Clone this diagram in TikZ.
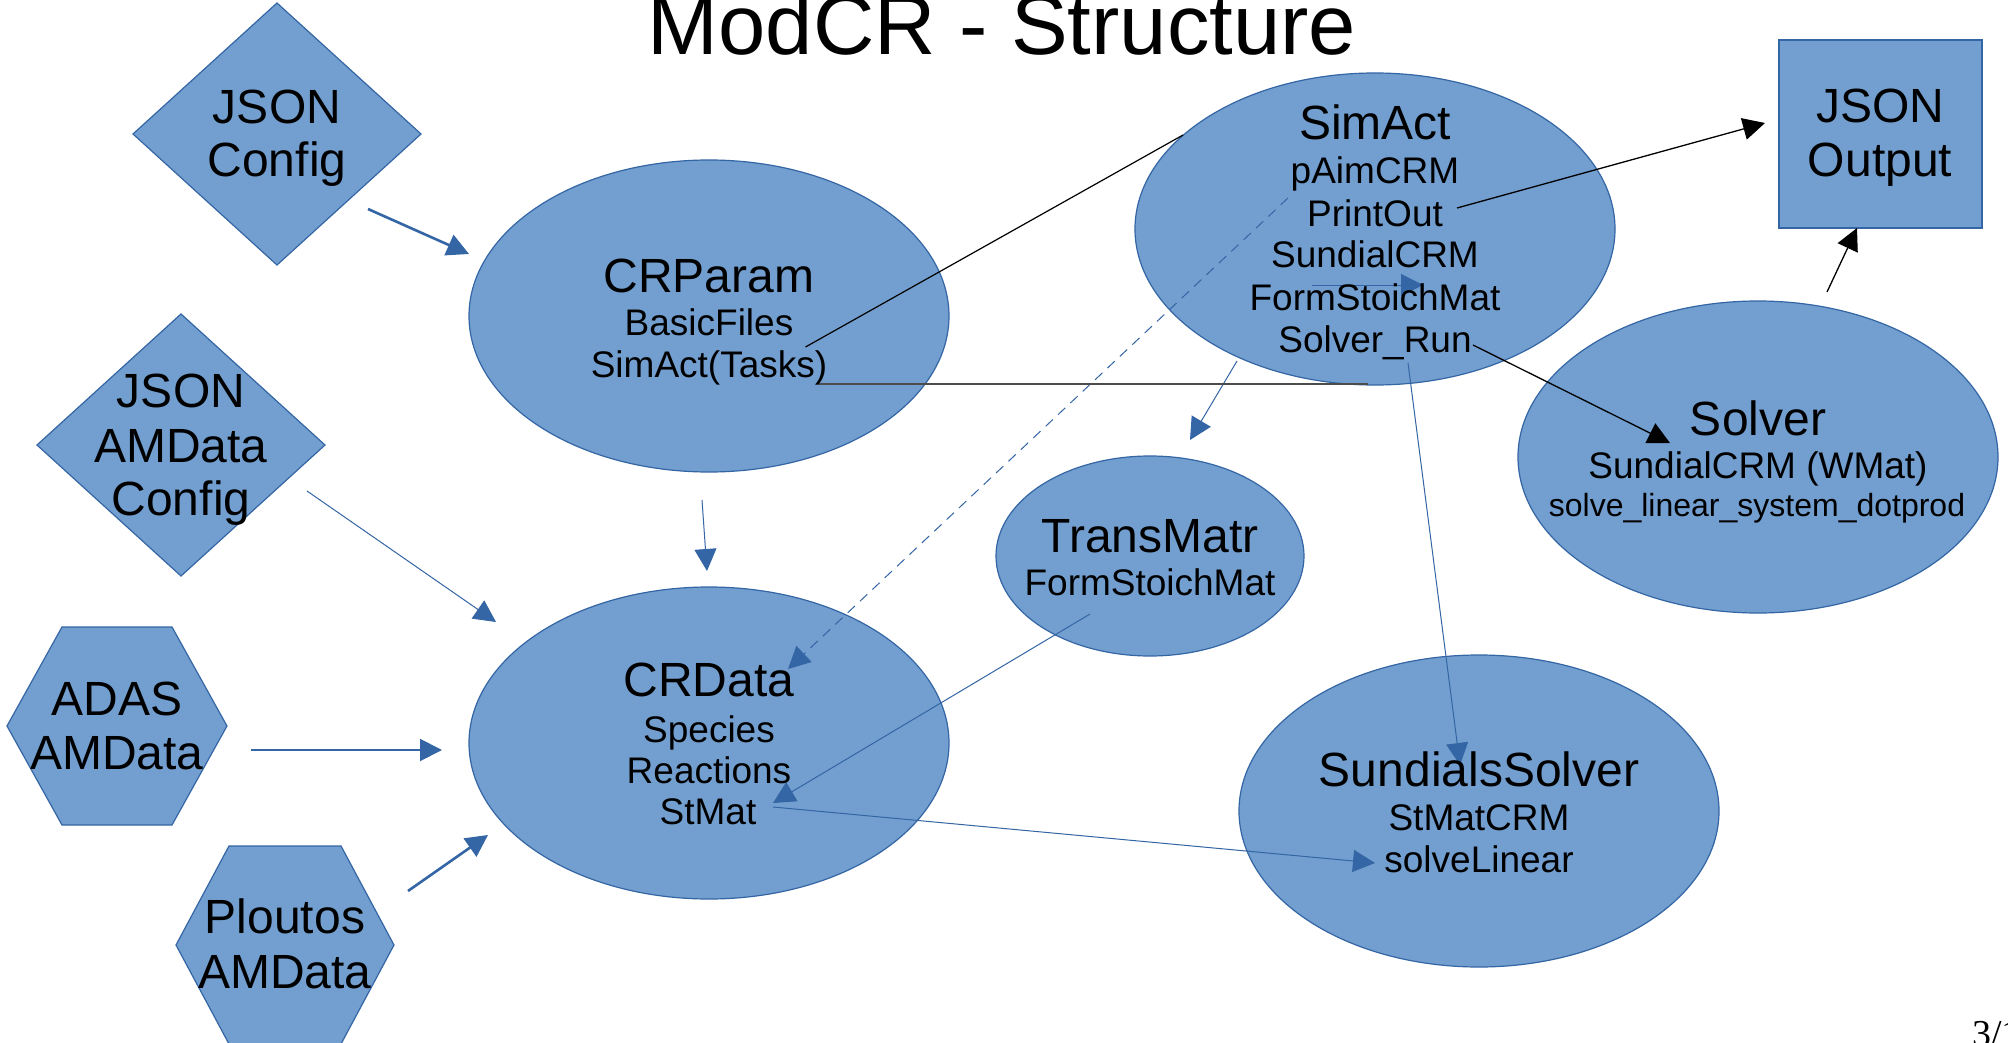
\documentclass[tikz,border=0pt]{standalone}
\usepackage{fontspec}
\setmainfont{Liberation Sans}
\newfontfamily\serifpn{Liberation Serif}
\usetikzlibrary{shapes.geometric,arrows.meta}
\definecolor{fillblue}{HTML}{729FCF}
\definecolor{lineblue}{HTML}{3465A4}
\begin{document}
\begin{tikzpicture}[x=1pt,y=-1pt,
  shp/.style={fill=fillblue,draw=lineblue,line width=1.2pt},
  ell/.style={shp,ellipse,inner sep=0pt,minimum width=480pt,minimum height=312pt},
  ttl/.style={anchor=base,inner sep=0pt,font=\fontsize{48}{55}\selectfont},
  sub/.style={anchor=base,inner sep=0pt,font=\fontsize{37}{42}\selectfont},
  tipA/.style={-{Triangle[length=22pt,width=22pt]}},
  barr/.style={draw=lineblue,line width=1.3pt,tipA},
  karr/.style={draw=black,line width=1.3pt,tipA},
  kline/.style={draw=black,line width=1.2pt},
]
\useasboundingbox (0,0) rectangle (2008,1043);
\fill[white] (0,0) rectangle (2008,1043);

% ---------- shapes ----------
\coordinate (jcfg) at (277,134);
\draw[shp] (133,134) -- (277,3) -- (421,134) -- (277,265) -- cycle;
\coordinate (jamd) at (181,445);
\draw[shp] (37,445) -- (181,314) -- (325,445) -- (181,576) -- cycle;
\coordinate (adas) at (117,726);
\draw[shp] (7,726) -- (62,627) -- (172,627) -- (227,726) -- (172,825) -- (62,825) -- cycle;
\coordinate (plout) at (285,945);
\draw[shp] (176,945) -- (229,846) -- (341,846) -- (394,945) -- (341,1044) -- (229,1044) -- cycle;

\node[ell] (crparam) at (709,316) {};
\node[ell] (crdata) at (709,743) {};
\node[ell] (simact) at (1375,229) {};
\node[ell] (solver) at (1758,457) {};
\node[ell] (sundials) at (1479,811) {};
\node[ell,minimum width=308pt,minimum height=200pt] (transm) at (1150,556) {};
\node[shp,rectangle,inner sep=0pt,minimum width=203pt,minimum height=188pt] (jout) at (1880.5,134) {};

% ---------- connectors ----------
\draw[barr,line width=2.6pt] ([shift={(91,75)}]jcfg.center) -- ([shift={(-240,-62)}]crparam.center);
\draw[barr,line width=1pt] ([shift={(126,46)}]jamd.center) -- ([shift={(-213,-121)}]crdata.center);
\draw[barr,line width=2pt] ([shift={(134,24)}]adas.center) -- ([shift={(-267,7)}]crdata.center);
\draw[barr,line width=2.6pt] ([shift={(123,-54)}]plout.center) -- ([shift={(-221,92)}]crdata.center);
\draw[barr,line width=1pt] ([shift={(-7,184)}]crparam.center) -- ([shift={(-2,-172)}]crdata.center);
\draw[barr,line width=1pt,dash pattern=on 10pt off 7pt] ([shift={(-87,-31)}]simact.center) -- ([shift={(79,-74)}]crdata.center);
\draw[barr,line width=1pt] ([shift={(-138,132)}]simact.center) -- ([shift={(40,-116)}]transm.center);
\draw[barr,line width=1pt] ([shift={(-63,56)}]simact.center) -- ([shift={(48,56)}]simact.center);
\draw[barr,line width=1pt] ([shift={(33,134)}]simact.center) -- ([shift={(-19,-46)}]sundials.center);
\draw[barr,line width=1pt] ([shift={(-60,58)}]transm.center) -- ([shift={(64,60)}]crdata.center);
\draw[barr,line width=1pt] ([shift={(64,64)}]crdata.center) -- ([shift={(-104,52)}]sundials.center);
\draw[karr] ([shift={(98,116)}]simact.center) -- ([shift={(-88,-14)}]solver.center);
\draw[karr] ([shift={(82,-21)}]simact.center) -- ([shift={(-115.5,-11)}]jout.center);
\draw[karr] ([shift={(69,-165)}]solver.center) -- ([shift={(-23.5,94)}]jout.center);
\draw[kline] ([shift={(96.5,31)}]crparam.center) -- ([shift={(-192,-94)}]simact.center);
\draw[draw=black!70,line width=2pt] ([shift={(109,68)}]crparam.center) -- ([shift={(-7,155)}]simact.center);

% ---------- texts ----------
\node[anchor=base,inner sep=0pt,font=\fontsize{85}{98}\selectfont] (title) at (1002,55) {ModCR - Structure};

\node[ttl] (t1a) at (277,124) {JSON};
\node[ttl] (t1b) at (277,177) {Config};

\node[ttl] (t2a) at (181,407) {JSON};
\node[ttl] (t2b) at (181,462) {AMData};
\node[ttl] (t2c) at (181,515) {Config};

\node[ttl] (t3a) at (117,715) {ADAS};
\node[ttl] (t3b) at (117,769) {AMData};

\node[ttl] (t4a) at (285,933) {Ploutos};
\node[ttl] (t4b) at (285,988) {AMData};

\node[ttl] (t5a) at (709,292) {CRParam};
\node[sub] (t5b) at (709,335) {BasicFiles};
\node[sub] (t5c) at (709,377) {SimAct(Tasks)};

\node[ttl] (t6a) at (709,696) {CRData};
\node[sub] (t6b) at (709,742) {Species};
\node[sub] (t6c) at (709,783) {Reactions};
\node[sub] (t6d) at (708,824) {StMat};

\node[ttl] (t7a) at (1375,140) {SimAct};
\node[sub] (t7b) at (1375,184) {pAimCRM};
\node[sub] (t7c) at (1375,227) {PrintOut};
\node[sub] (t7d) at (1375,268) {SundialCRM};
\node[sub] (t7e) at (1375,310) {FormStoichMat};
\node[sub] (t7f) at (1375,352) {Solver\_Run};

\node[ttl] (t8a) at (1880,123) {JSON};
\node[ttl] (t8b) at (1880,177) {Output};

\node[ttl] (t9a) at (1758,435) {Solver};
\node[sub] (t9b) at (1758,478) {SundialCRM (WMat)};
\node[anchor=base,inner sep=0pt,font=\fontsize{32}{37}\selectfont] (t9c) at (1757,516) {solve\_linear\_system\_dotprod};

\node[ttl] (t10a) at (1150,552) {TransMatr};
\node[sub] (t10b) at (1150,595) {FormStoichMat};

\node[ttl] (t11a) at (1479,786) {SundialsSolver};
\node[sub] (t11b) at (1479,830) {StMatCRM};
\node[sub] (t11c) at (1479,872) {solveLinear};

\node[anchor=base west,inner sep=0pt,font=\serifpn\fontsize{38}{44}\selectfont] (pnum) at (1972,1046) {3/1};
\end{tikzpicture}
\end{document}
